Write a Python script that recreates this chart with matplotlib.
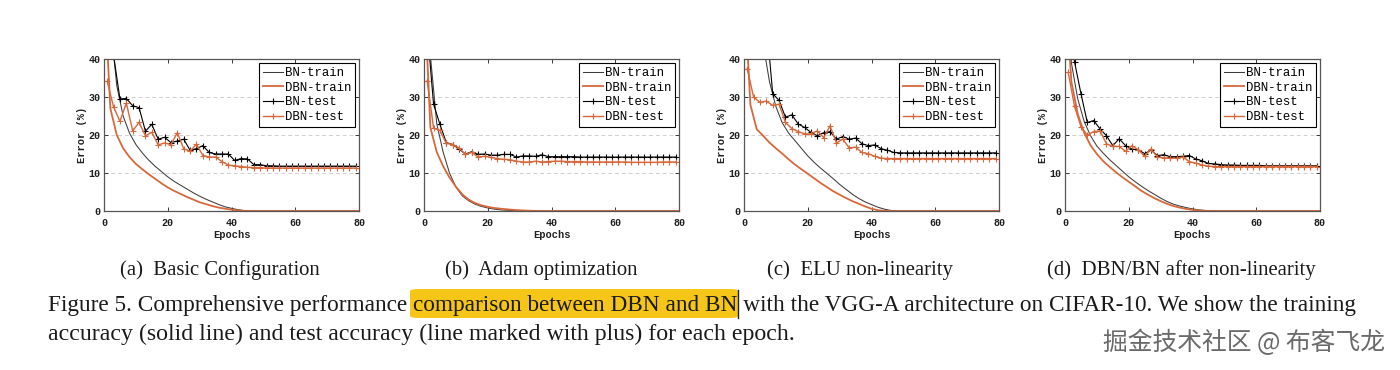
import numpy as np
import matplotlib
matplotlib.use("Agg")
import matplotlib.pyplot as plt
from matplotlib.patches import FancyBboxPatch
from matplotlib.lines import Line2D

# ---------------- data ----------------
train_epochs = np.arange(0, 81, 2)   # 41 points
test_epochs = np.arange(1, 80, 2)    # 40 points (markers)

series_labels = ["BN-train", "DBN-train", "BN-test", "DBN-test"]
panel_captions = ["(a)  Basic Configuration", "(b)  Adam optimization",
                  "(c)  ELU non-linearity", "(d)  DBN/BN after non-linearity"]
x_ticks = [0, 20, 40, 60, 80]
y_ticks = [0, 10, 20, 30, 40]

# (a) Basic configuration
a_bn_train = [80, 50, 33, 25, 20.5, 17.5, 15.3, 13.4, 11.8, 10.4, 9.0, 7.8, 6.8, 5.8, 4.8, 3.9,
              3.1, 2.4, 1.7, 1.1, 0.7, 0.35, 0.1, 0] + [0] * 17
a_dbn_train = [60, 27, 20, 16.5, 14.2, 12.4, 11.0, 9.7, 8.5, 7.3, 6.2, 5.3, 4.5, 3.7, 3.0, 2.3,
               1.8, 1.3, 0.9, 0.6, 0.35, 0.15, 0.05, 0] + [0] * 17
a_bn_test = [50, 41, 29.5, 29.6, 27.7, 27.2, 21.0, 22.8, 18.9, 19.4, 18.0, 18.4, 18.9, 16.0, 16.4,
             17.2, 15.4, 15.0, 15.0, 15.0, 13.3, 13.8, 13.7, 12.2, 12.2,
             11.9, 11.9, 11.8, 11.8, 11.8, 11.8, 11.8, 11.8, 11.8, 11.8, 11.8, 11.8, 11.8, 11.8, 11.8]
a_dbn_test = [34.1, 27.4, 23.6, 28.4, 21.1, 23.3, 19.8, 20.7, 17.4, 17.9, 17.5, 20.6, 16.4, 15.7,
              17.6, 14.6, 14.2, 14.2, 13.0, 12.1, 11.9, 11.7, 11.5, 11.4, 11.4] + [11.3] * 15

# (b) Adam optimization
b_bn_train = [100, 41, 23, 15.5, 10, 6.3, 4.0, 2.7, 1.8, 1.2, 0.8, 0.5, 0.3, 0.2, 0.1, 0.05, 0] + [0] * 24
b_dbn_train = [60, 22, 15.5, 11.8, 8.8, 6.4, 4.4, 3.0, 2.1, 1.5, 1.1, 0.8, 0.6, 0.45, 0.3, 0.2,
               0.12, 0.05, 0] + [0] * 22
b_bn_test = [48, 28.1, 22.8, 18.0, 17.5, 16.3, 15.0, 15.6, 14.9, 15.0, 14.7, 14.7, 14.9, 14.9, 14.2,
             14.5, 14.5, 14.4, 14.8, 14.3,
             14.3, 14.3, 14.3, 14.3, 14.2, 14.2, 14.2, 14.2, 14.2, 14.2, 14.2, 14.2, 14.2, 14.2,
             14.2, 14.2, 14.2, 14.2, 14.2, 14.2]
b_dbn_test = [34.3, 21.8, 21.2, 17.8, 17.5, 16.6, 14.9, 15.4, 14.2, 14.4, 14.1, 13.8, 13.6, 13.5,
              13.1, 12.9, 12.9, 13.1, 12.9, 13.0,
              13.1, 13.1, 13.0, 13.0, 13.0, 12.9, 12.9, 12.9, 12.9, 12.9, 12.9, 12.9, 12.8, 12.8,
              12.8, 12.8, 12.8, 12.9, 12.9, 12.9]

# (c) ELU non-linearity
c_bn_train = [120, 90, 70, 44, 34, 27.5, 23.2, 20.5, 18.5, 16.5, 14.5, 12.8, 11.3, 9.9, 8.5, 7.0,
              5.7, 4.4, 3.3, 2.4, 1.7, 1.0, 0.5, 0.15, 0] + [0] * 16
c_dbn_train = [60, 28, 21.5, 19.8, 18.0, 16.5, 15.1, 13.6, 12.2, 11.0, 9.8, 8.6, 7.4, 6.3, 5.2,
               4.3, 3.4, 2.6, 1.9, 1.2, 0.6, 0.2, 0.05, 0] + [0] * 17
c_bn_test = [80, 70, 58, 50, 30.9, 29.1, 24.7, 25.3, 22.9, 22.0, 20.7, 19.8, 20.6, 20.9, 18.9,
             19.6, 18.9, 19.2, 17.7, 17.2, 17.4, 16.4, 16.0, 15.4] + [15.3] * 16
c_dbn_test = [37.5, 30.0, 28.6, 28.9, 27.8, 28.1, 23.3, 21.7, 20.9, 20.3, 20.3, 21.1, 19.3, 22.4,
              17.9, 18.9, 16.6, 16.8, 15.4, 15.1, 14.4, 13.9] + [13.8] * 18

# (d) DBN/BN after non-linearity
d_bn_train = [70, 39, 29.5, 23.6, 19.8, 17.1, 15.2, 13.5, 12.0, 10.5, 9.0, 7.7, 6.5, 5.4, 4.4,
              3.4, 2.5, 1.8, 1.3, 0.9, 0.55, 0.3, 0.12, 0.03, 0] + [0] * 16
d_dbn_train = [60, 34, 25.5, 20.6, 17.3, 15.0, 13.1, 11.6, 10.2, 8.9, 7.7, 6.5, 5.3, 4.3, 3.4,
               2.6, 1.9, 1.3, 0.9, 0.55, 0.3, 0.15, 0.05, 0] + [0] * 17
d_bn_test = [50, 39.2, 30.9, 23.3, 23.8, 21.6, 19.8, 17.2, 19.0, 17.2, 16.3, 16.1, 15.1, 16.0,
             14.6, 14.8, 14.3, 14.3, 14.4, 14.6, 13.7, 13.2, 12.5, 12.4, 12.2,
             12.1, 12.1, 12.0, 12.0, 12.0, 12.0, 11.9, 11.9, 11.9, 11.9, 11.9, 11.9, 11.9, 11.9, 11.9]
d_dbn_test = [36.5, 27.5, 22.2, 20.0, 20.9, 21.1, 17.7, 17.0, 17.0, 15.7, 17.2, 16.1, 14.4, 16.3,
              14.2, 14.0, 13.9, 13.9, 14.2, 13.0, 12.6, 12.1, 11.8] + [11.7] * 17

panels = [
    (a_bn_train, a_dbn_train, a_bn_test, a_dbn_test),
    (b_bn_train, b_dbn_train, b_bn_test, b_dbn_test),
    (c_bn_train, c_dbn_train, c_bn_test, c_dbn_test),
    (d_bn_train, d_dbn_train, d_bn_test, d_dbn_test),
]

caption_line1 = ("Figure 5. Comprehensive performance ", "comparison between DBN and BN",
                 " with the VGG-A architecture on CIFAR-10. We show the training")
caption_line2 = "accuracy (solid line) and test accuracy (line marked with plus) for each epoch."
watermark = "掘金技术社区 @ 布客飞龙"

# ---------------- style ----------------
ORANGE = "#D6683C"
DARK = "#3c3c3c"
MONO = "Liberation Mono"
SERIF = "Liberation Serif"

W, H = 1400, 370
fig = plt.figure(figsize=(14, 3.7), dpi=100)
fig.patch.set_facecolor("white")


def fx(x):
    return x / W


def fy(y):
    return 1 - y / H


panel_left = [104, 424, 744, 1065]
ax_w = 255
ax_top, ax_bot = 59, 211

for left, (bn_tr, dbn_tr, bn_te, dbn_te) in zip(panel_left, panels):
    ax = fig.add_axes([fx(left), fy(ax_bot), ax_w / W, (ax_bot - ax_top) / H])
    ax.plot(train_epochs, bn_tr, color=DARK, lw=0.75, label=series_labels[0])
    ax.plot(train_epochs, dbn_tr, color=ORANGE, lw=1.3, label=series_labels[1])
    ax.plot(test_epochs, bn_te, color="black", lw=0.8, marker="+", ms=4.8, mew=0.8,
            label=series_labels[2])
    ax.plot(test_epochs, dbn_te, color=ORANGE, lw=1.0, marker="+", ms=4.8, mew=0.8,
            label=series_labels[3])
    ax.set_xlim(0, 80)
    ax.set_ylim(0, 40)
    ax.set_xticks(x_ticks)
    ax.set_yticks(y_ticks)
    ax.yaxis.grid(True, ls=(0, (4, 3)), color="#cfcfcf", lw=0.7)
    ax.set_axisbelow(True)
    ax.tick_params(direction="in", top=True, right=True, length=3, width=0.6,
                   labelsize=7.2, colors="#1e1e1e")
    ax.tick_params(axis="x", pad=5)
    ax.tick_params(axis="y", pad=2.5)
    for lab in ax.get_xticklabels() + ax.get_yticklabels():
        lab.set_fontfamily(MONO)
        lab.set_fontweight("bold")
    for s in ax.spines.values():
        s.set_color("#555555")
        s.set_linewidth(0.9)
    ax.set_xlabel("Epochs", fontfamily=MONO, fontsize=7.5, fontweight="bold", color="#222222")
    ax.set_ylabel("Error (%)", fontfamily=MONO, fontsize=7.5, fontweight="bold", color="#222222")
    ax.xaxis.set_label_coords(0.5, -0.125)
    ax.yaxis.set_label_coords(-0.068, 0.5)
    leg = ax.legend(loc="upper right", prop=dict(family=MONO, size=8.9), frameon=True,
                    fancybox=False, edgecolor="black", framealpha=1, borderpad=0.3,
                    labelspacing=0.22, handlelength=1.6, handletextpad=0.15,
                    borderaxespad=0.35, numpoints=1)
    leg.get_frame().set_linewidth(0.8)

renderer = fig.canvas.get_renderer()


def width_px(t):
    return t.get_window_extent(renderer).width


def fit(t, target):
    fs = t.get_fontsize()
    t.set_fontsize(fs * target / width_px(t))
    return t


# panel captions
cap_centers = [220, 541, 860, 1181]
cap_widths = [201, 194, 187, 270]
for cx, cw, txt in zip(cap_centers, cap_widths, panel_captions):
    t = fig.text(fx(cx), fy(270), txt, ha="center", va="center", fontfamily=SERIF,
                 fontsize=14, color="#1a1a1a")
    fit(t, cw)

# caption line 1 (with highlight)
full1 = "".join(caption_line1)
t1 = fig.text(fx(48), fy(305), full1, ha="left", va="center", fontfamily=SERIF,
              fontsize=16, color="#1a1a1a", zorder=3)
fit(t1, 1307)
fs1 = t1.get_fontsize()


def str_w(s):
    tt = fig.text(0, 0, s + "|", fontfamily=SERIF, fontsize=fs1)
    bar = fig.text(0, 0, "|", fontfamily=SERIF, fontsize=fs1)
    w = width_px(tt) - width_px(bar)
    tt.remove()
    bar.remove()
    return w


x_start = 48 + str_w(caption_line1[0])
x_end = 48 + str_w(caption_line1[0] + caption_line1[1])
box = FancyBboxPatch((fx(x_start - 3), fy(318)), (x_end - x_start + 4) / W, 29 / H,
                     boxstyle="round,pad=0,rounding_size=0.006", transform=fig.transFigure,
                     fc="#F5C518", ec="none", zorder=1)
fig.patches.append(box)
fig.add_artist(Line2D([fx(x_end + 1), fx(x_end + 1)], [fy(318), fy(290)],
                      transform=fig.transFigure, color="#222222", lw=1.0, zorder=4))

# caption line 2
t2 = fig.text(fx(48), fy(334), caption_line2, ha="left", va="center", fontfamily=SERIF,
              fontsize=16, color="#1a1a1a")
fit(t2, 748)

# watermark
tw = fig.text(fx(1385), fy(343), watermark, ha="right", va="center",
              fontfamily=["Noto Sans CJK SC", "DejaVu Sans"], fontsize=16, color="#6a6a6a")
fit(tw, 283)

fig.savefig("out.png", dpi=100, facecolor="white")
